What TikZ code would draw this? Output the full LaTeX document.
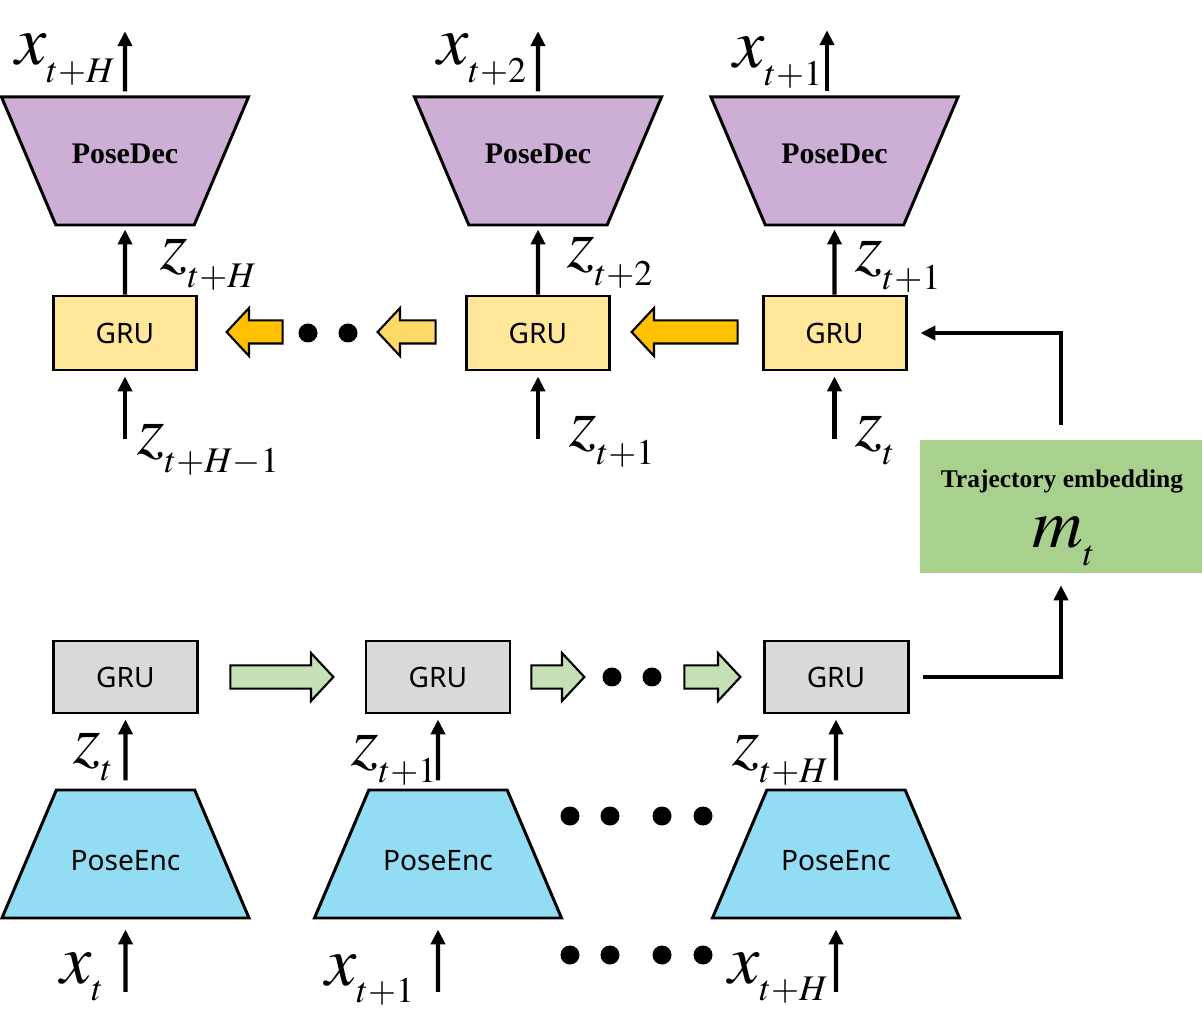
\documentclass[tikz,border=0pt]{standalone}
\usepackage{mathptmx}
\usepackage{fontspec}
\setmainfont{Liberation Serif}
\setsansfont{Noto Sans}
\usepackage{tikz}
\usetikzlibrary{arrows.meta,shapes.geometric,shapes.arrows}
\DeclareMathSizes{40}{40}{20.5}{14}
\newcommand{\lsub}[2]{#1_{\lower4pt\hbox{$\scriptstyle #2$}}}
\pgfdeclarelayer{edgelayer}
\pgfdeclarelayer{nodelayer}
\pgfsetlayers{edgelayer,nodelayer,main}
\definecolor{decfill}{HTML}{CDAED4}
\definecolor{encfill}{HTML}{92DCF4}
\definecolor{grutop}{HTML}{FFE699}
\definecolor{grubot}{HTML}{D9D9D9}
\definecolor{trajfill}{HTML}{A9D18E}
\definecolor{orangearr}{HTML}{FFC000}
\definecolor{lightorange}{HTML}{FFD966}
\definecolor{greenarr}{HTML}{C5E0B4}
\tikzstyle{none}=[inner sep=0pt]
\tikzstyle{lbl}=[inner sep=0pt, anchor=base west, font=\fontsize{40}{44}\selectfont]
\tikzstyle{arrow}=[draw=black, line width=2.4pt, -{Triangle[length=8.5pt,width=8pt]}]
\tikzstyle{enc}=[trapezium, trapezium angle=67, trapezium stretches body=true, draw=black, line width=1.7pt, fill=encfill, minimum width=4.94cm, minimum height=2.56cm, inner xsep=0pt, inner ysep=0.95cm, text height=0.66cm, text depth=0cm, font=\sffamily\fontsize{16}{19}\selectfont]
\tikzstyle{dec}=[enc, shape border rotate=180, fill=decfill, inner ysep=0.99cm, text height=0.34cm, text depth=0.24cm, font=\bfseries\fontsize{17}{20}\selectfont]
\tikzstyle{gru}=[rectangle, draw=black, line width=1.7pt, fill=grutop, minimum width=2.86cm, minimum height=1.48cm, font=\sffamily\fontsize{16}{19}\selectfont]
\tikzstyle{grub}=[gru, fill=grubot, minimum width=2.88cm, minimum height=1.44cm]
\tikzstyle{traj}=[rectangle, fill=trajfill, minimum width=5.66cm, minimum height=2.66cm]
\tikzstyle{blockl}=[single arrow, draw=black, line width=1.2pt, fill=orangearr, single arrow tip angle=94, minimum width=0.9cm, inner xsep=0pt, inner ysep=0.21cm, shape border rotate=180]
\tikzstyle{blockr}=[blockl, fill=greenarr, shape border rotate=0]
\tikzstyle{dot}=[circle, fill=black, minimum size=0.38cm, inner sep=0pt]

\begin{document}
\begin{tikzpicture}
	\useasboundingbox (0, 0) rectangle (24.04, -20.36);
	\begin{pgfonlayer}{nodelayer}
		\node [style=dec] (0) at (2.50, -3.22) {PoseDec};
		\node [style=dec] (1) at (10.76, -3.22) {PoseDec};
		\node [style=dec] (2) at (16.69, -3.22) {PoseDec};
		\node [style=gru] (3) at (2.50, -6.66) {GRU};
		\node [style=gru] (4) at (10.76, -6.66) {GRU};
		\node [style=gru] (5) at (16.69, -6.66) {GRU};
		\node [style=grub] (6) at (2.51, -13.54) {GRU};
		\node [style=grub] (7) at (8.76, -13.54) {GRU};
		\node [style=grub] (8) at (16.72, -13.54) {GRU};
		\node [style=enc] (9) at (2.51, -17.08) {PoseEnc};
		\node [style=enc] (10) at (8.76, -17.08) {PoseEnc};
		\node [style=enc] (11) at (16.72, -17.08) {PoseEnc};
		\node [style=traj] (12) at (21.22, -10.13) {};
		\node [style=none, font=\bfseries\fontsize{14.5}{17}\selectfont] (13) at (21.24, -9.62) {Trajectory embedding};
		\node [style=lbl] (14) at (20.64, -10.96) {$\lsub{m}{t}$};
		\node [style=blockl, minimum height=2.12cm] (15) at (13.80, -6.64) {};
		\node [style=blockl, minimum height=1.16cm, fill=lightorange] (16) at (8.24, -6.64) {};
		\node [style=blockl, minimum height=1.12cm] (17) at (5.20, -6.64) {};
		\node [style=none] (18) at (2.50, -0.60) {};
		\node [style=none] (19) at (10.76, -0.60) {};
		\node [style=none] (20) at (16.54, -0.58) {};
		\node [style=none] (21) at (2.50, -8.80) {};
		\node [style=none] (22) at (10.76, -8.80) {};
		\node [style=none] (23) at (16.69, -8.80) {};
		\node [style=none] (24) at (2.51, -19.86) {};
		\node [style=none] (25) at (8.76, -19.86) {};
		\node [style=none] (26) at (16.72, -19.86) {};
		\node [style=lbl] (27) at (0.30, -1.30) {$\lsub{x}{t+H}$};
		\node [style=lbl] (28) at (8.74, -1.30) {$\lsub{x}{t+2}$};
		\node [style=lbl] (29) at (14.66, -1.36) {$\lsub{x}{t+1}$};
		\node [style=lbl] (30) at (3.20, -5.40) {$\lsub{z}{t+H}$};
		\node [style=lbl] (31) at (11.34, -5.36) {$\lsub{z}{t+2}$};
		\node [style=lbl] (32) at (17.10, -5.44) {$\lsub{z}{t+1}$};
		\node [style=lbl] (33) at (2.74, -9.10) {$\lsub{z}{t+H-1}$};
		\node [style=lbl] (34) at (11.38, -8.94) {$\lsub{z}{t+1}$};
		\node [style=lbl] (35) at (17.10, -8.94) {$\lsub{z}{t}$};
		\node [style=lbl] (36) at (1.46, -15.26) {$\lsub{z}{t}$};
		\node [style=lbl] (37) at (7.02, -15.30) {$\lsub{z}{t+1}$};
		\node [style=lbl] (38) at (14.64, -15.30) {$\lsub{z}{t+H}$};
		\node [style=lbl] (39) at (1.20, -19.66) {$\lsub{x}{t}$};
		\node [style=lbl] (40) at (6.50, -19.70) {$\lsub{x}{t+1}$};
		\node [style=lbl] (41) at (14.56, -19.66) {$\lsub{x}{t+H}$};
		\node [style=blockr, minimum height=2.06cm] (42) at (5.53, -13.54) {};
		\node [style=blockr, minimum height=1.06cm] (43) at (11.05, -13.54) {};
		\node [style=blockr, minimum height=1.12cm] (44) at (14.14, -13.54) {};
		\node [style=dot] (45) at (6.16, -6.66) {};
		\node [style=dot] (46) at (6.96, -6.66) {};
		\node [style=dot] (47) at (12.24, -13.54) {};
		\node [style=dot] (48) at (13.04, -13.54) {};
		\node [style=dot] (49) at (11.40, -16.32) {};
		\node [style=dot] (50) at (12.20, -16.32) {};
		\node [style=dot] (51) at (13.24, -16.32) {};
		\node [style=dot] (52) at (14.06, -16.32) {};
		\node [style=dot] (53) at (11.40, -19.10) {};
		\node [style=dot] (54) at (12.20, -19.10) {};
		\node [style=dot] (55) at (13.24, -19.10) {};
		\node [style=dot] (56) at (14.06, -19.10) {};
	\end{pgfonlayer}
	\begin{pgfonlayer}{edgelayer}
		\draw [style=arrow, shorten <=0.08cm] (0.north) to (18);
		\draw [style=arrow, shorten <=0.08cm] (1.north) to (19);
		\draw [style=arrow, shorten <=0.08cm] (20 |- 2.north) to (20);
		\draw [style=arrow, shorten >=0.06cm] (3) to (0);
		\draw [style=arrow, shorten >=0.06cm] (4) to (1);
		\draw [style=arrow, shorten >=0.06cm] (5) to (2);
		\draw [style=arrow, shorten >=0.1cm] (21) to (3);
		\draw [style=arrow, shorten >=0.1cm] (22) to (4);
		\draw [style=arrow, shorten >=0.1cm] (23) to (5);
		\draw [style=arrow, shorten <=0.16cm, shorten >=0.1cm] (9) to (6);
		\draw [style=arrow, shorten <=0.16cm, shorten >=0.1cm] (10) to (7);
		\draw [style=arrow, shorten <=0.16cm, shorten >=0.1cm] (11) to (8);
		\draw [style=arrow, shorten >=0.2cm] (24) to (9);
		\draw [style=arrow, shorten >=0.2cm] (25) to (10);
		\draw [style=arrow, shorten >=0.2cm] (26) to (11);
		\draw [style=arrow, shorten <=0.3cm, shorten >=0.26cm] (12.north) |- (5.east);
		\draw [style=arrow, shorten <=0.26cm, shorten >=0.24cm] (8.east) -| (12.south);
	\end{pgfonlayer}
\end{tikzpicture}
\end{document}
